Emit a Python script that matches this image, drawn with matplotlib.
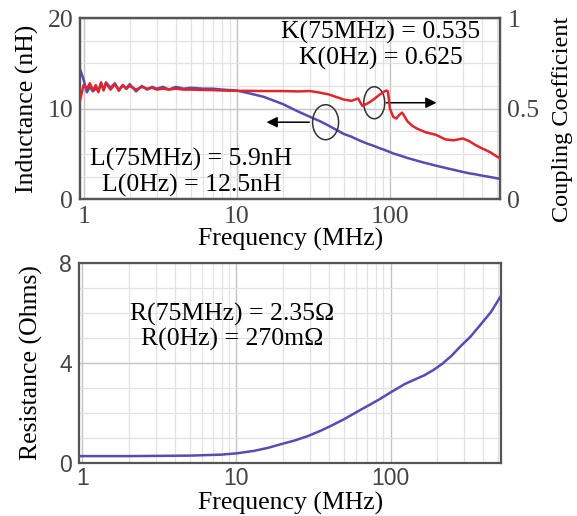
import matplotlib
matplotlib.use("Agg")
import matplotlib.pyplot as plt
from matplotlib.patches import Ellipse
from matplotlib.transforms import ScaledTranslation
from matplotlib.ticker import FixedLocator, MultipleLocator, LogLocator, NullFormatter

# ---------------- data ----------------
freq_top = [0.95, 1.0, 1.05, 1.1, 1.15, 1.2, 1.25, 1.3, 1.35, 1.4, 1.5, 1.6, 1.7, 1.8, 1.9,
            2.0, 2.2, 2.4, 2.6, 2.8, 3.0, 3.3, 3.6, 4.0, 4.5, 5.0, 6, 7, 8, 10, 12, 15, 20,
            25, 30, 35, 40, 50, 56, 62, 66, 72, 78, 85, 90, 95, 97, 100, 105, 110, 115, 120,
            125, 130, 140, 150, 170, 200, 230, 260, 300, 330, 360, 400, 450, 500, 525]
inductance_nH = [14.3, 13.2, 11.8, 12.4, 11.9, 12.2, 12.0, 12.8, 12.1, 12.9, 12.3, 12.8, 12.0,
                 12.6, 12.2, 12.7, 11.9, 12.5, 12.1, 12.4, 12.2, 12.4, 12.1, 12.4, 12.2, 12.3,
                 12.2, 12.2, 12.1, 12.0, 11.7, 11.3, 10.5, 9.7, 9.1, 8.6, 8.1, 7.2, 6.9, 6.55,
                 6.35, 6.1, 5.9, 5.65, 5.5, 5.35, 5.3, 5.2, 5.05, 4.95, 4.85, 4.75, 4.65, 4.55,
                 4.4, 4.25, 4.0, 3.7, 3.45, 3.25, 3.0, 2.85, 2.75, 2.6, 2.45, 2.3, 2.25]
coupling_k = [0.55, 0.63, 0.61, 0.64, 0.60, 0.63, 0.59, 0.645, 0.60, 0.64, 0.605, 0.635, 0.60,
              0.63, 0.61, 0.625, 0.605, 0.62, 0.61, 0.615, 0.605, 0.61, 0.605, 0.61, 0.605,
              0.605, 0.603, 0.602, 0.60, 0.598, 0.598, 0.597, 0.597, 0.595, 0.597, 0.588,
              0.578, 0.55, 0.543, 0.556, 0.515, 0.53, 0.55, 0.575, 0.59, 0.60, 0.595, 0.50,
              0.455, 0.445, 0.465, 0.478, 0.455, 0.43, 0.405, 0.39, 0.37, 0.355, 0.33, 0.325,
              0.335, 0.32, 0.30, 0.28, 0.26, 0.235, 0.225]

freq_r = [0.95, 2, 5, 8, 10, 13, 16, 19, 24, 29, 35, 41, 50, 57, 65, 72, 85, 100, 110, 124,
          145, 165, 190, 217, 250, 288, 330, 380, 450, 525]
resistance_ohm = [0.27, 0.27, 0.29, 0.33, 0.38, 0.48, 0.60, 0.73, 0.90, 1.07, 1.28, 1.48, 1.75,
                  1.95, 2.15, 2.30, 2.55, 2.82, 2.97, 3.16, 3.35, 3.50, 3.72, 3.97, 4.30, 4.70,
                  5.05, 5.50, 6.05, 6.72]

x_ticks = [1, 10, 100]
x_ticklabels = ["1", "10", "100"]
top_yticks = [0, 10, 20]
right_yticks = [0, 0.5, 1]
right_yticklabels = ["0", "0.5", "1"]
bot_yticks = [0, 4, 8]

# ---------------- style ----------------
SERIF = ["Liberation Serif", "DejaVu Serif"]
SANS = ["Liberation Sans", "DejaVu Sans"]
RED = "#e0262b"
PURPLE = "#5a4bb3"
SPINE = "#555555"
FS = 18.5

fig = plt.figure(figsize=(5.77, 5.16), dpi=100)
ax1 = fig.add_axes([0.139, 0.614, 0.728, 0.351])
ax3 = fig.add_axes([0.137, 0.103, 0.732, 0.387])

def style_axes(ax, ymax, yminor, ymajor):
    ax.set_xscale("log")
    ax.set_xlim(0.95, 525)
    ax.set_ylim(0, ymax)
    ax.xaxis.set_major_locator(FixedLocator(x_ticks))
    ax.set_xticklabels(x_ticklabels)
    ax.xaxis.set_minor_locator(LogLocator(base=10, subs=range(2, 10)))
    ax.xaxis.set_minor_formatter(NullFormatter())
    ax.yaxis.set_major_locator(FixedLocator(ymajor))
    ax.yaxis.set_minor_locator(MultipleLocator(yminor))
    ax.grid(which="minor", color="#e2e2e2", lw=0.9)
    ax.grid(which="major", color="#c4c4c4", lw=1.0)
    ax.tick_params(which="both", length=0, pad=5)
    for s in ax.spines.values():
        s.set_color(SPINE)
        s.set_linewidth(1.6)
    ax.set_axisbelow(True)

# ---------------- top panel ----------------
style_axes(ax1, 20, 2.5, top_yticks)
ax1.plot(freq_top, inductance_nH, color=PURPLE, lw=1.8, zorder=3)
ax2 = ax1.twinx()
ax2.set_ylim(0, 1)
ax2.yaxis.set_major_locator(FixedLocator(right_yticks))
ax2.set_yticklabels(right_yticklabels)
ax2.tick_params(length=0, pad=5)
for s in ax2.spines.values():
    s.set_color(SPINE)
    s.set_linewidth(1.6)
ax2.plot(freq_top, coupling_k, color=RED, lw=1.8, zorder=3)

for lab in ax1.get_xticklabels() + ax1.get_yticklabels() + ax2.get_yticklabels():
    lab.set_fontfamily(SERIF)
    lab.set_fontsize(FS)
    lab.set_color("#444444")

ax1.set_ylabel("Inductance (nH)", family=SERIF, fontsize=FS, labelpad=6)
ax2.set_ylabel("Coupling Coefficient", family=SERIF, fontsize=FS - 1)
ax2.yaxis.set_label_coords(1.122, 0.44)
ax1.set_xlabel("Frequency (MHz)", family=SERIF, fontsize=FS, labelpad=0)

ax1.text(0.715, 0.848, "K(75MHz) = 0.535\nK(0Hz) = 0.625", transform=ax1.transAxes,
         ha="center", va="center", family=SERIF, fontsize=FS, linespacing=1.15, zorder=5)
ax1.text(0.265, 0.146, "L(75MHz) = 5.9nH\nL(0Hz) = 12.5nH", transform=ax1.transAxes,
         ha="center", va="center", family=SERIF, fontsize=FS, linespacing=1.15, zorder=5)

def ring(ax, x, y, w, h):
    tr = fig.dpi_scale_trans + ScaledTranslation(x, y, ax.transData)
    ax.add_patch(Ellipse((0, 0), w, h, transform=tr, fill=False, ec="#333333", lw=1.1, zorder=6))

ring(ax1, 38, 8.5, 0.26, 0.35)
ring(ax1, 79, 10.65, 0.21, 0.32)
ax1.annotate("", xy=(15, 8.5), xytext=(31, 8.5),
             arrowprops=dict(arrowstyle="-|>", color="black", lw=1.1, mutation_scale=16), zorder=6)
ax1.annotate("", xy=(210, 10.65), xytext=(91, 10.65),
             arrowprops=dict(arrowstyle="-|>", color="black", lw=1.1, mutation_scale=16), zorder=6)

# ---------------- bottom panel ----------------
style_axes(ax3, 8, 1, bot_yticks)
ax3.tick_params(axis="x", pad=3)
ax3.plot(freq_r, resistance_ohm, color=PURPLE, lw=1.8, zorder=3)
for lab in ax3.get_xticklabels() + ax3.get_yticklabels():
    lab.set_fontfamily(SANS)
    lab.set_fontsize(FS - 2)
    lab.set_color("#444444")
ax3.set_ylabel("Resistance (Ohms)", family=SERIF, fontsize=FS, labelpad=12)
ax3.set_xlabel("Frequency (MHz)", family=SERIF, fontsize=FS, labelpad=1)
ax3.text(0.363, 0.68, "R(75MHz) = 2.35\u03a9\nR(0Hz) = 270m\u03a9", transform=ax3.transAxes,
         ha="center", va="center", family=SERIF, fontsize=FS, linespacing=1.15, zorder=5)

fig.savefig("out.png", dpi=100)
